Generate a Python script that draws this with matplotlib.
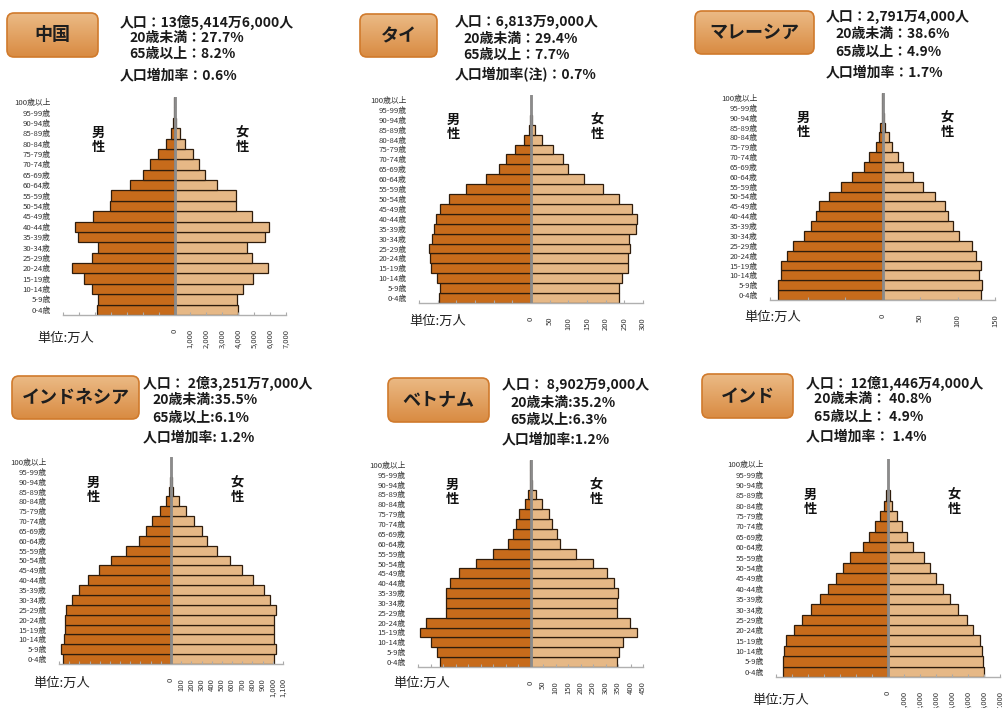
import numpy as np
import matplotlib
matplotlib.use("Agg")
import matplotlib.pyplot as plt
from matplotlib.patches import FancyBboxPatch
from matplotlib.colors import LinearSegmentedColormap

plt.rcParams['font.family'] = ['Noto Sans CJK JP', 'DejaVu Sans']

W, H = 1002, 708

ages = ["0-4歳", "5-9歳", "10-14歳", "15-19歳", "20-24歳", "25-29歳", "30-34歳",
        "35-39歳", "40-44歳", "45-49歳", "50-54歳", "55-59歳", "60-64歳", "65-69歳",
        "70-74歳", "75-79歳", "80-84歳", "85-89歳", "90-94歳", "95-99歳", "100歳以上"]

# values in 万人, from 0-4 up to 100+
china_m = [4870, 4810, 5190, 5710, 6450, 5190, 4810, 6030, 6240, 5130, 4080, 4010,
           2820, 1970, 1530, 1030, 525, 230, 80, 15, 3]
china_f = [3990, 3930, 4310, 4940, 5880, 4870, 4540, 5710, 5950, 4870, 3840, 3890,
           2690, 1910, 1530, 1150, 670, 315, 110, 25, 3]
thai_m = [247, 245, 251, 269, 271, 273, 264, 260, 255, 245, 219, 173, 121, 86, 68,
          42, 20, 6, 3, 1, 0.3]
thai_f = [235, 235, 243, 260, 261, 265, 263, 280, 285, 271, 237, 192, 141, 99, 85,
          58, 30, 11, 4, 1, 0.3]
malay_m = [139, 139, 135, 135, 128, 120, 105, 96, 89, 85, 72, 56, 41, 25, 18, 9, 5,
           3, 1, 0.3, 0.1]
malay_f = [131, 132, 129, 131, 125, 119, 102, 94, 87, 83, 70, 54, 40, 27, 21, 12, 8,
           3, 2, 0.5, 0.1]
indo_m = [1060, 1080, 1050, 1043, 1040, 1033, 973, 900, 815, 703, 585, 445, 317, 250,
          188, 112, 53, 20, 5, 1, 0.3]
indo_f = [1010, 1030, 1010, 1010, 1015, 1030, 975, 910, 810, 700, 580, 450, 355, 300,
          230, 145, 75, 20, 6, 1, 0.3]
viet_m = [364, 373, 398, 444, 417, 339, 339, 339, 323, 286, 218, 149, 90, 72, 60, 48,
          24, 11, 4, 1, 0.2]
viet_f = [345, 352, 370, 426, 397, 347, 347, 349, 335, 304, 251, 183, 116, 105, 84,
          72, 44, 21, 5, 1, 0.3]
india_m = [6580, 6580, 6470, 6370, 5890, 5370, 4800, 4220, 3740, 3280, 2840, 2380,
           1590, 1170, 815, 520, 270, 125, 30, 5, 1]
india_f = [5990, 5950, 5850, 5760, 5340, 4930, 4400, 3860, 3440, 3030, 2650, 2250,
           1570, 1210, 880, 560, 250, 100, 30, 5, 1]

names = ["中国", "タイ", "マレーシア", "インドネシア", "ベトナム", "インド"]
stats = [
    ["人口：13億5,414万6,000人", "20歳未満：27.7%", "65歳以上：8.2%", "人口増加率：0.6%"],
    ["人口：6,813万9,000人", "20歳未満：29.4%", "65歳以上：7.7%", "人口増加率(注)：0.7%"],
    ["人口：2,791万4,000人", "20歳未満：38.6%", "65歳以上：4.9%", "人口増加率：1.7%"],
    ["人口： 2億3,251万7,000人", "20歳未満:35.5%", "65歳以上:6.1%", "人口増加率: 1.2%"],
    ["人口： 8,902万9,000人", "20歳未満:35.2%", "65歳以上:6.3%", "人口増加率:1.2%"],
    ["人口： 12億1,446万4,000人", "20歳未満： 40.8%", "65歳以上： 4.9%", "人口増加率： 1.4%"],
]
males = [china_m, thai_m, malay_m, indo_m, viet_m, india_m]
females = [china_f, thai_f, malay_f, indo_f, viet_f, india_f]
limits = [7000, 300, 150, 1100, 450, 7000]
steps = [1000, 50, 50, 100, 50, 1000]

# layout in pixels
axes_px = [(63, 286, 97, 315), (419, 643, 95, 303), (770, 995, 93, 300),
           (59, 283, 457, 664), (418, 643, 460, 667), (776, 1000, 459, 677)]
box_px = [(7, 98, 13, 57), (360, 437, 14, 57), (695, 814, 11, 54),
          (12, 139, 376, 419), (388, 489, 378, 422), (702, 793, 374, 418)]
stat_x = [(120, 129), (455, 463), (826, 835), (143, 152), (502, 510), (806, 814)]
stat_y = [(22, 38, 54, 75), (22, 39, 55, 75), (17, 34, 52, 72),
          (383, 400, 418, 437), (385, 403, 420, 439), (383, 399, 417, 436)]
unit_px = [(37, 338), (409, 321), (744, 317), (33, 683), (393, 683), (752, 700)]
sex_px = [(98, 242, 140), (453, 597, 127), (803, 947, 125),
          (93, 237, 490), (452, 596, 492), (810, 954, 502)]

MALE = '#C76B1B'
FEMALE = '#E6B886'

fig = plt.figure(figsize=(W / 100, H / 100), dpi=100)


def rect(x0, x1, y0, y1):
    return [x0 / W, 1 - y1 / H, (x1 - x0) / W, (y1 - y0) / H]


cmap = LinearSegmentedColormap.from_list('box', ['#EBBA85', '#D98B42'])

for i in range(6):
    x0, x1, y0, y1 = axes_px[i]
    ax = fig.add_axes(rect(x0, x1, y0, y1))
    y = np.arange(len(ages))
    m = np.array(males[i])
    f = np.array(females[i])
    ax.barh(y, -m, height=1.0, color=MALE, edgecolor='#2e1c0c', linewidth=0.9)
    ax.barh(y, f, height=1.0, color=FEMALE, edgecolor='#2e1c0c', linewidth=0.9)
    ax.axvline(0, color='#8c8c8c', linewidth=2, zorder=3)
    lim = limits[i]
    ax.set_xlim(-lim, lim)
    ax.set_ylim(-0.5, len(ages) - 0.5)
    ticks = np.arange(-lim, lim + 1, steps[i])
    ax.set_xticks(ticks)
    ax.set_xticklabels([f"{t:,}" if t >= 0 else "" for t in ticks],
                       rotation=90, fontsize=5.5, color='#333333')
    ax.tick_params(axis='x', direction='in', length=2.5, color='#aaaaaa', pad=10)
    ax.set_yticks(y)
    ax.set_yticklabels(ages, fontsize=5.6, color='#333333')
    ax.tick_params(axis='y', length=0, pad=9)
    for s in ['top', 'right', 'left']:
        ax.spines[s].set_visible(False)
    ax.spines['bottom'].set_color('#b0b0b0')
    ax.spines['bottom'].set_linewidth(1)
    ax.patch.set_alpha(0)

    # title box with gradient
    bx0, bx1, by0, by1 = box_px[i]
    bw, bh = bx1 - bx0, by1 - by0
    bax = fig.add_axes(rect(bx0 - 1, bx1 + 1, by0 - 1, by1 + 1))
    bax.set_axis_off()
    bax.set_xlim(-1, bw + 1)
    bax.set_ylim(-1, bh + 1)
    grad = np.linspace(0, 1, 64).reshape(-1, 1)
    im = bax.imshow(grad, aspect='auto', cmap=cmap, extent=[0, bw, 0, bh], origin='upper')
    box = FancyBboxPatch((0, 0), bw, bh, boxstyle='round,pad=0,rounding_size=7',
                         facecolor='none', edgecolor='#D07A2C', linewidth=1.2)
    bax.add_patch(box)
    im.set_clip_path(box)
    bax.text(bw / 2, bh / 2, names[i], ha='center', va='center', fontsize=13,
             fontweight='bold', color='#1e1e1e')

    # stats text
    xs = stat_x[i]
    for k, line in enumerate(stats[i]):
        xx = xs[0] if k in (0, 3) else xs[1]
        fig.text(xx / W, 1 - stat_y[i][k] / H, line, ha='left', va='center',
                 fontsize=10, fontweight='bold', color='#1a1a1a')

    ux, uy = unit_px[i]
    fig.text(ux / W, 1 - uy / H, "単位:万人", ha='left', va='center', fontsize=9.5,
             color='#222222')
    mx, fx, sy = sex_px[i]
    fig.text(mx / W, 1 - sy / H, "男\n性", ha='center', va='center', fontsize=9.5,
             fontweight='bold', linespacing=1.05, color='#111111')
    fig.text(fx / W, 1 - sy / H, "女\n性", ha='center', va='center', fontsize=9.5,
             fontweight='bold', linespacing=1.05, color='#111111')

fig.savefig('out.png', dpi=100)
